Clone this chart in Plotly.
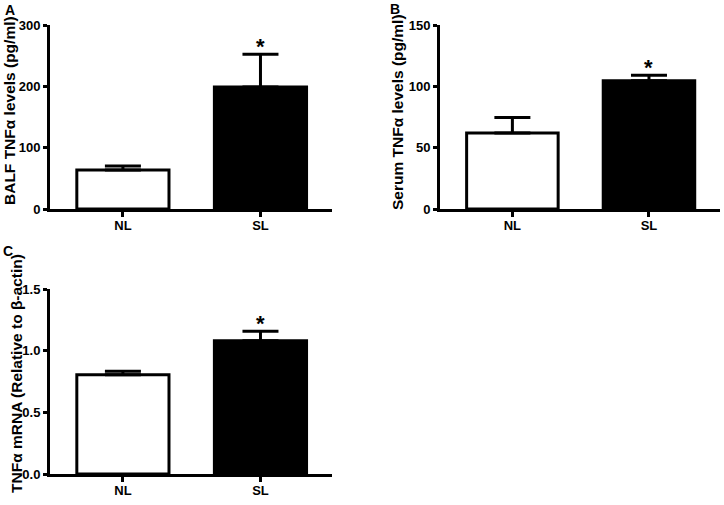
import plotly.graph_objects as go

categories = ["NL", "SL"]

balf_means = [63.5, 199.0]
balf_err = [6.5, 53.5]

serum_means = [62.0, 104.5]
serum_err = [12.5, 4.5]

mrna_means = [0.806, 1.083]
mrna_err = [0.028, 0.076]

bar_fill = ["white", "black"]

W, H = 724, 505
FONT = "Liberation Sans"

fig = go.Figure()

panels = [
    (balf_means, balf_err, "x", "y"),
    (serum_means, serum_err, "x2", "y2"),
    (mrna_means, mrna_err, "x3", "y3"),
]

for means, errs, xa, ya in panels:
    fig.add_trace(go.Bar(
        x=categories, y=means, xaxis=xa, yaxis=ya,
        width=0.67,
        marker=dict(color=bar_fill, line=dict(color="black", width=3)),
        error_y=dict(type="data", symmetric=False, array=errs,
                     arrayminus=[0, 0], color="black", thickness=3, width=18),
        showlegend=False, hoverinfo="skip",
    ))


def px_x(p):
    return p / W


def px_y(p):
    return 1 - p / H


tickfont = dict(family=FONT, size=13, color="black", weight="bold")
common_x = dict(type="category", range=[-0.53, 1.52], showline=True, linecolor="black",
                linewidth=3, ticks="outside", ticklen=5, tickwidth=3, tickcolor="black",
                tickfont=tickfont, showgrid=False, zeroline=False, fixedrange=True,
                automargin=False, ticklabelstandoff=-3)
common_y = dict(showline=True, linecolor="black", linewidth=3, ticks="outside", ticklen=4,
                tickwidth=3, tickcolor="black", tickfont=tickfont, showgrid=False,
                zeroline=False, fixedrange=True, automargin=False)

yA = [px_y(209), px_y(25)]
yC = [px_y(474), px_y(289.3)]

fig.update_layout(
    template="none",
    width=W, height=H,
    margin=dict(l=0, r=0, t=0, b=0, pad=0, autoexpand=False),
    paper_bgcolor="white", plot_bgcolor="white",
    bargap=0,
    xaxis=dict(common_x, domain=[px_x(50), px_x(332)], anchor="y"),
    yaxis=dict(common_y, domain=yA, range=[0, 300], tickvals=[0, 100, 200, 300], anchor="x"),
    xaxis2=dict(common_x, domain=[px_x(440), px_x(720)], anchor="y2"),
    yaxis2=dict(common_y, domain=yA, range=[0, 150], tickvals=[0, 50, 100, 150], anchor="x2"),
    xaxis3=dict(common_x, domain=[px_x(50), px_x(332)], anchor="y3"),
    yaxis3=dict(common_y, domain=yC, range=[0, 1.5], tickvals=[0, 0.5, 1.0, 1.5],
                tickformat=".1f", anchor="x3"),
)

annots = []
titlefont = dict(family=FONT, size=15.5, color="black", weight="bold")
# axis titles
annots.append(dict(text="BALF TNFα levels (pg/ml)", x=px_x(10), y=px_y(111), xref="paper",
                   yref="paper", textangle=-90, showarrow=False, font=titlefont,
                   xanchor="center", yanchor="middle"))
annots.append(dict(text="Serum TNFα levels (pg/ml)", x=px_x(398), y=px_y(112), xref="paper",
                   yref="paper", textangle=-90, showarrow=False, font=titlefont,
                   xanchor="center", yanchor="middle"))
annots.append(dict(text="TNFα mRNA (Relative to β-actin)", x=px_x(16), y=px_y(374), xref="paper",
                   yref="paper", textangle=-90, showarrow=False, font=titlefont,
                   xanchor="center", yanchor="middle"))
# panel letters
for lab, xx, yy in [("A", 10, 10), ("B", 395, 9), ("C", 8, 251)]:
    annots.append(dict(text=lab, x=px_x(xx), y=px_y(yy), xref="paper", yref="paper",
                       showarrow=False, font=dict(family=FONT, size=14, color="black", weight="bold"),
                       xanchor="center", yanchor="middle"))
# significance stars
for (means, errs, xa, ya) in panels:
    annots.append(dict(text="*", x="SL", y=means[1] + errs[1], xref=xa, yref=ya,
                       showarrow=False, font=dict(family=FONT, size=22, color="black", weight="bold"),
                       xanchor="center", yanchor="bottom", yshift=-7))

fig.update_layout(annotations=annots)

fig.write_html("out.html", config={"displayModeBar": False, "staticPlot": True},
               post_script="document.body.style.margin='0';document.body.style.overflow='hidden';")
